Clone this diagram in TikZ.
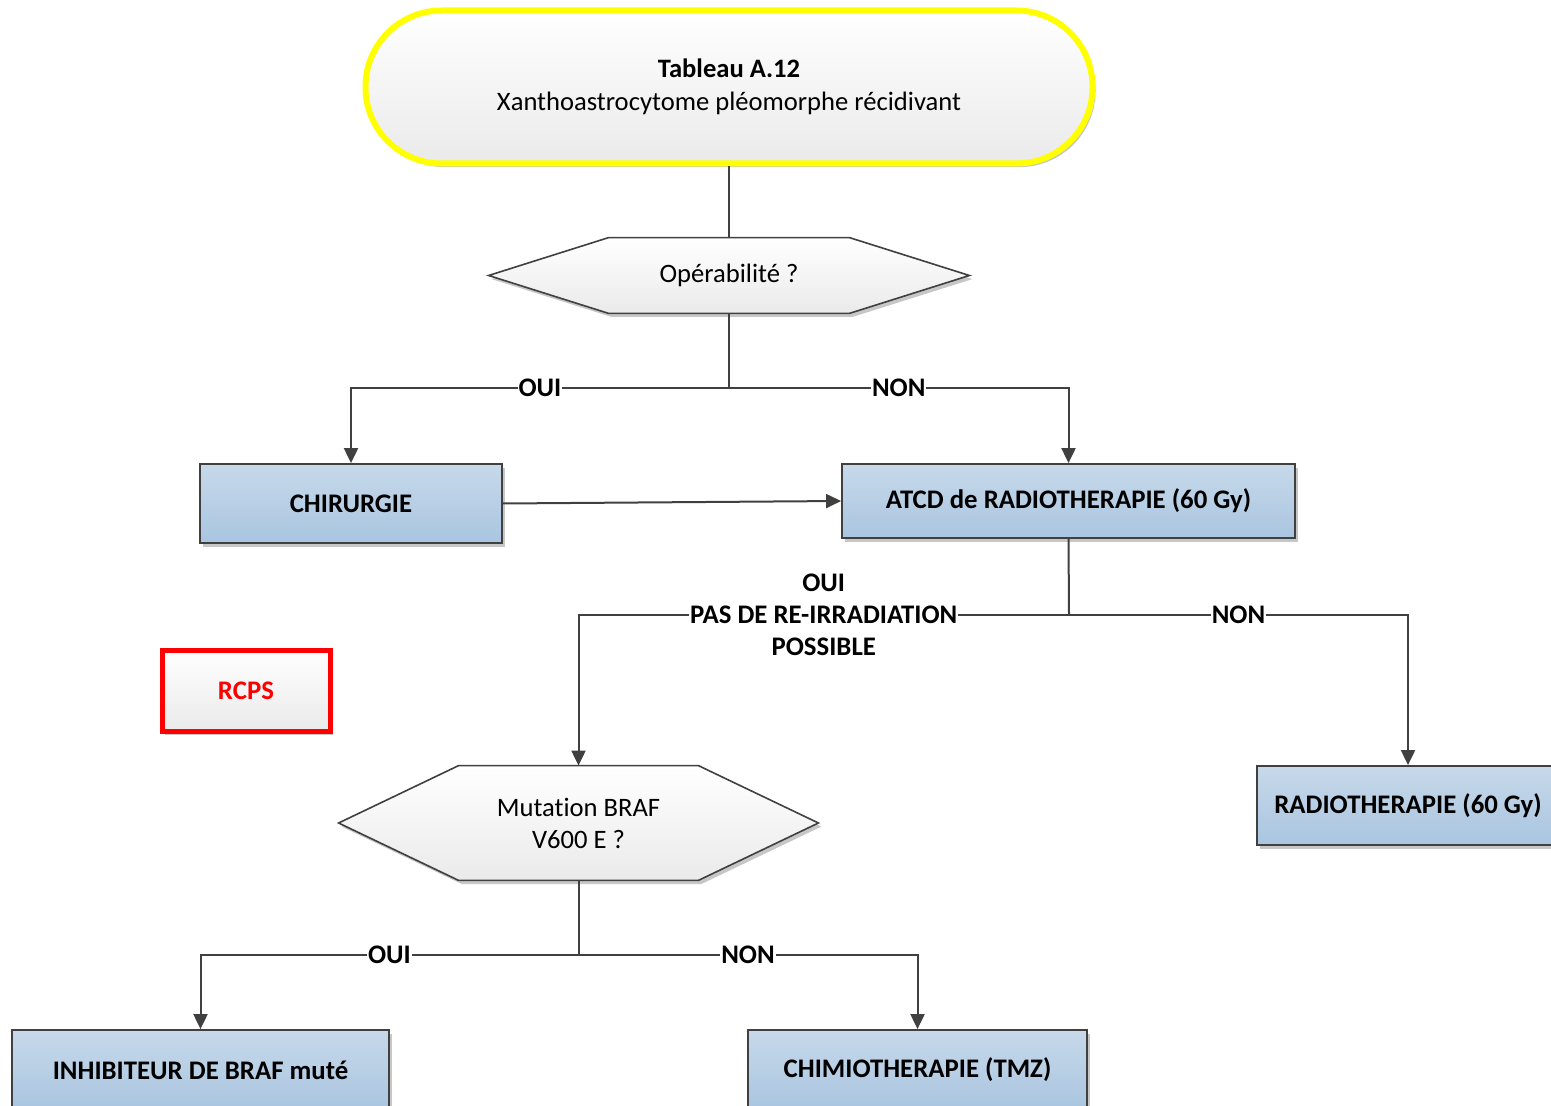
\documentclass[tikz,border=0pt]{standalone}
\usepackage{fontspec}
\setmainfont[Ligatures=NoCommon]{Carlito}
\usetikzlibrary{arrows.meta,shadows,calc,backgrounds}
\definecolor{lineC}{HTML}{404040}
\definecolor{blueT}{HTML}{C7D9EA}
\definecolor{blueB}{HTML}{A9C5E0}
\definecolor{grayB}{HTML}{EAEAEA}
\definecolor{yel}{HTML}{FFFF00}
\definecolor{redC}{HTML}{FF0000}
\begin{document}
\begin{tikzpicture}[x=0.5pt,y=-0.5pt,
  conn/.style={draw=lineC,line width=1pt},
  arr/.style={conn,-{Triangle[length=7.5pt,width=7pt]}},
  shad/.style={drop shadow={shadow xshift=1.5pt,shadow yshift=-1.8pt,opacity=0.22,fill=black}},
  bluebox/.style={draw=lineC,line width=0.9pt,top color=blueT,bottom color=blueB,shad,
    font=\bfseries\fontsize{13.4}{16}\selectfont,align=center,inner sep=0pt},
  hexn/.style={inner sep=0pt,align=center,font=\fontsize{13.3}{16}\selectfont},
  hexdraw/.style={draw=lineC,line width=0.8pt,top color=white,bottom color=grayB,shad},
  lbl/.style={fill=white,inner sep=0.5pt,font=\bfseries\fontsize{13.4}{16}\selectfont,align=center}
]
\useasboundingbox (0,0) rectangle (1551,1106);

% title terminal
\node[draw=yel,line width=3pt,rounded corners=38pt,top color=white,bottom color=grayB,shad,
  minimum width=363.5pt,minimum height=76.5pt,align=center,
  font=\fontsize{13.3}{16.5}\selectfont] (t) at (729,87)
  {\textbf{Tableau A.12}\\Xanthoastrocytome pléomorphe récidivant};

% decision 1
\node[hexn,minimum width=240pt,minimum height=37.5pt] (h1) at (729,275.5) {Opérabilité ?};
\begin{scope}[on background layer]
\path[hexdraw] (h1.west) -- ($(h1.north west)+(60pt,0)$) -- ($(h1.north east)+(-60pt,0)$)
  -- (h1.east) -- ($(h1.south east)+(-60pt,0)$) -- ($(h1.south west)+(60pt,0)$) -- cycle;
\end{scope}

% boxes
\node[bluebox,minimum width=151pt,minimum height=39.5pt] (chir) at (351,503.5) {CHIRURGIE};
\node[bluebox,minimum width=226.5pt,minimum height=37pt] (atcd) at (1068.5,501) {ATCD de RADIOTHERAPIE (60 Gy)};
\node[bluebox,minimum width=151pt,minimum height=39.5pt] (radio) at (1408,805.5) {RADIOTHERAPIE (60 Gy)};
\node[bluebox,minimum width=188.5pt,minimum height=40pt] (inhib) at (200.5,1070) {INHIBITEUR DE BRAF muté};
\node[bluebox,minimum width=169.5pt,minimum height=40pt] (chimio) at (917.5,1070) {CHIMIOTHERAPIE (TMZ)};

% RCPS
\node[draw=redC,line width=2.5pt,top color=white,bottom color=grayB,shad,
  minimum width=84pt,minimum height=40.5pt,text=redC,
  font=\bfseries\fontsize{13.4}{16}\selectfont] (rcps) at (246,690.5) {RCPS};

% decision 2
\node[hexn,minimum width=239.5pt,minimum height=57pt] (h2) at (578.5,823) {Mutation BRAF\\V600 E ?};
\begin{scope}[on background layer]
\path[hexdraw] (h2.west) -- ($(h2.north west)+(60pt,0)$) -- ($(h2.north east)+(-60pt,0)$)
  -- (h2.east) -- ($(h2.south east)+(-60pt,0)$) -- ($(h2.south west)+(60pt,0)$) -- cycle;
\end{scope}

% junctions
\coordinate (j1) at (729,388);
\coordinate (j2) at (1069,615);
\coordinate (j3) at (578.5,955);

% connectors
\draw[conn] (t.south) -- (h1.north);
\draw[conn] (h1.south) -- (j1);
\draw[arr] (j1) -| node[lbl,pos=0.25] {OUI} (chir.north);
\draw[arr] (j1) -| node[lbl,pos=0.25] {NON} (atcd.north);
\draw[arr] (chir.east) -- (atcd.west);
\draw[conn] (atcd.south) -- (j2);
\draw[arr] (j2) -| node[lbl,pos=0.25] {OUI\\PAS DE RE-IRRADIATION\\POSSIBLE} (h2.north);
\draw[arr] (j2) -| node[lbl,pos=0.25] {NON} (radio.north);
\draw[conn] (h2.south) -- (j3);
\draw[arr] (j3) -| node[lbl,pos=0.25] {OUI} (inhib.north);
\draw[arr] (j3) -| node[lbl,pos=0.25] {NON} (chimio.north);
\end{tikzpicture}
\end{document}
